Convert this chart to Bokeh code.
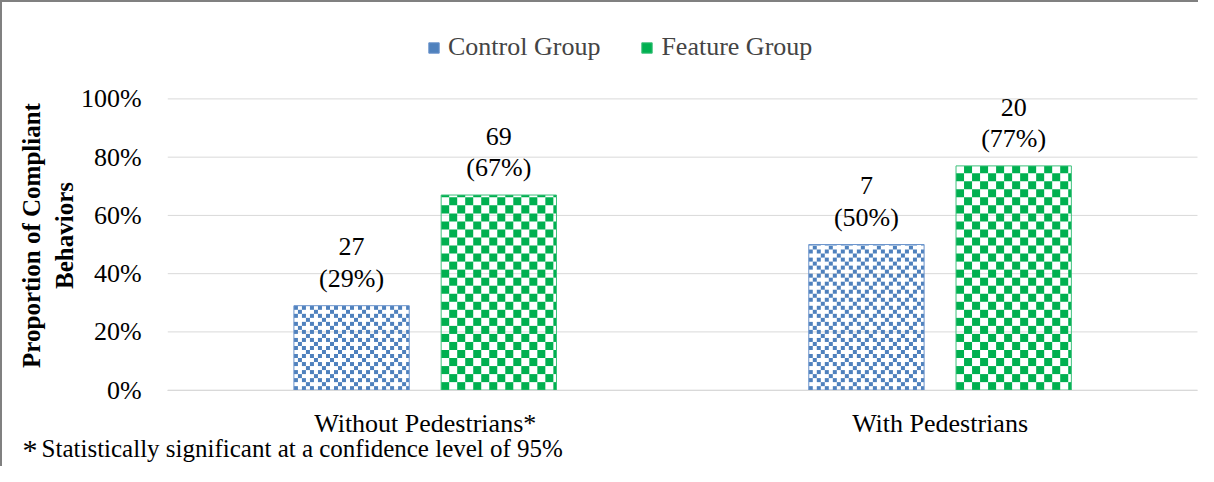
import numpy as np
from bokeh.plotting import figure
from bokeh.models import (Range1d, ColumnDataSource, Legend, LegendItem, FixedTicker,
                          NumeralTickFormatter, Label)
from bokeh.core.properties import value
from bokeh.embed import file_html
from bokeh.resources import INLINE

# ---- data ----
categories = ["Without Pedestrians*", "With Pedestrians"]
control_pct = [0.29, 0.50]
feature_pct = [0.67, 0.77]
control_n = [27, 7]
feature_n = [69, 20]
series_names = ["Control Group", "Feature Group"]
y_ticks = [0, 0.2, 0.4, 0.6, 0.8, 1.0]
footnote = "Statistically significant at a confidence level of 95%"

FONT = "Liberation Serif"
BLUE = "#4F81BD"
GREEN = "#00B050"
GRID = "#D9D9D9"

# ---- layout constants (pixels) ----
W, H = 1198, 466
BW = 2                       # css border (left/top)
X0PX, Y0PX = 167, 388        # pixel position of category start / value 0
px_per_x = 514.0             # pixels per category
px_per_y = 290.0             # pixels per 100 %
x_lo = -(X0PX - BW) / px_per_x
x_hi = x_lo + (W - BW) / px_per_x
y_lo = -(H - Y0PX) / px_per_y
y_hi = y_lo + (H - BW) / px_per_y


def dx(px):
    return (px - X0PX) / px_per_x


def dy(py):
    return (Y0PX - py) / px_per_y


off = 0.143
bw = 0.224


def checker(centers, tops, width, cw, ch, on):
    L, R, B, T = [], [], [], []
    for c, t in zip(centers, tops):
        x0, x1 = c - width / 2, c + width / 2
        nx = int(np.ceil((x1 - x0) / cw - 1e-9))
        ny = int(np.ceil(t / ch - 1e-9))
        for ix in range(nx):
            for iy in range(ny):
                if on(ix, iy):
                    L.append(x0 + ix * cw)
                    R.append(min(x0 + (ix + 1) * cw, x1))
                    B.append(iy * ch)
                    T.append(min((iy + 1) * ch, t))
    return ColumnDataSource(dict(left=L, right=R, bottom=B, top=T))


cat_x = [i + 0.5 for i in range(len(categories))]
ctrl_x = [c - off for c in cat_x]
feat_x = [c + off for c in cat_x]

blue_cells = checker(ctrl_x, control_pct, bw, 4 / px_per_x, 4 / px_per_y,
                     lambda i, j: (i + j) % 2 == 0 and (i % 4, j % 4) not in [(1, 1), (3, 3)])
green_cells = checker(feat_x, feature_pct, bw, 8 / px_per_x, 8 / px_per_y,
                      lambda i, j: (i + j) % 2 == 0)

src = ColumnDataSource(dict(
    ctrl_x=ctrl_x, feat_x=feat_x,
    control=control_pct, feature=feature_pct,
    control_lbl=[f"{n}\n({v:.0%})" for n, v in zip(control_n, control_pct)],
    feature_lbl=[f"{n}\n({v:.0%})" for n, v in zip(feature_n, feature_pct)],
))
grid_src = ColumnDataSource(dict(y=y_ticks, x0=[0] * len(y_ticks),
                                 x1=[len(categories)] * len(y_ticks)))

p = figure(x_range=Range1d(x_lo, x_hi), y_range=Range1d(y_lo, y_hi),
           width=W, height=H, output_backend="svg", toolbar_location=None,
           min_border_left=0, min_border_right=0, min_border_top=0, min_border_bottom=0)
p.styles = {"border-left": f"{BW}px solid #808080", "border-top": f"{BW}px solid #808080",
            "box-sizing": "border-box"}
p.outline_line_color = None
p.background_fill_color = "white"
p.xgrid.visible = False
p.ygrid.visible = False

p.segment(x0="x0", x1="x1", y0="y", y1="y", source=grid_src, line_color=GRID, line_width=1)

q1 = p.quad(left="left", right="right", bottom="bottom", top="top", source=blue_cells,
            fill_color=BLUE, line_color=None)
q2 = p.quad(left="left", right="right", bottom="bottom", top="top", source=green_cells,
            fill_color=GREEN, line_color=None)
r1 = p.vbar(x="ctrl_x", top="control", width=bw, source=src,
            fill_alpha=0, line_color="#6A93CC", line_width=1)
r2 = p.vbar(x="feat_x", top="feature", width=bw, source=src,
            fill_alpha=0, line_color="#3CC07A", line_width=1)

for xc, lbl, col in [("ctrl_x", "control_lbl", "control"), ("feat_x", "feature_lbl", "feature")]:
    p.text(x=xc, y=col, text=lbl, source=src,
           text_font=value(FONT), text_font_size="26px", text_color="#000000",
           text_align="center", text_baseline="bottom", y_offset=-13, text_line_height=1.08)

p.yaxis.fixed_location = 0
p.yaxis.ticker = y_ticks
p.yaxis.formatter = NumeralTickFormatter(format="0%")
p.yaxis.axis_line_color = None
p.yaxis.major_tick_line_color = None
p.yaxis.minor_tick_line_color = None
p.yaxis.major_label_text_font = FONT
p.yaxis.major_label_text_font_size = "26px"
p.yaxis.major_label_text_color = "#000000"
p.yaxis.major_label_standoff = 20
p.yaxis.axis_label = "Proportion of Compliant\nBehaviors"
p.yaxis.axis_label_text_font = FONT
p.yaxis.axis_label_text_font_size = "25px"
p.yaxis.axis_label_text_font_style = "bold"
p.yaxis.axis_label_text_color = "#000000"
p.yaxis.axis_label_standoff = 0

p.xaxis.fixed_location = 0
p.xaxis.bounds = (0, len(categories))
p.xaxis.ticker = FixedTicker(ticks=cat_x)
p.xaxis.major_label_overrides = {c: name for c, name in zip(cat_x, categories)}
p.xaxis.axis_line_color = GRID
p.xaxis.major_tick_line_color = None
p.xaxis.minor_tick_line_color = None
p.xaxis.major_label_text_font = FONT
p.xaxis.major_label_text_font_size = "26px"
p.xaxis.major_label_text_color = "#000000"
p.xaxis.major_label_standoff = 13

legend = Legend(items=[LegendItem(label=series_names[0], renderers=[q1, r1]),
                       LegendItem(label=series_names[1], renderers=[q2, r2])],
                orientation="horizontal", location=(425, 406),
                border_line_color=None, background_fill_alpha=0,
                label_text_font=FONT, label_text_font_size="26px",
                glyph_width=13, glyph_height=13, spacing=40, label_standoff=8,
                padding=0, margin=0)
p.add_layout(legend, "center")

p.add_layout(Label(x=dx(22), y=dy(447), text="*", text_baseline="alphabetic",
                   text_font=FONT, text_font_size="30px", text_color="#000000"))
p.add_layout(Label(x=dx(41), y=dy(446), text=footnote, text_baseline="alphabetic",
                   text_font=FONT, text_font_size="25px", text_color="#000000"))

open("out.html", "w").write(file_html(p, INLINE))
